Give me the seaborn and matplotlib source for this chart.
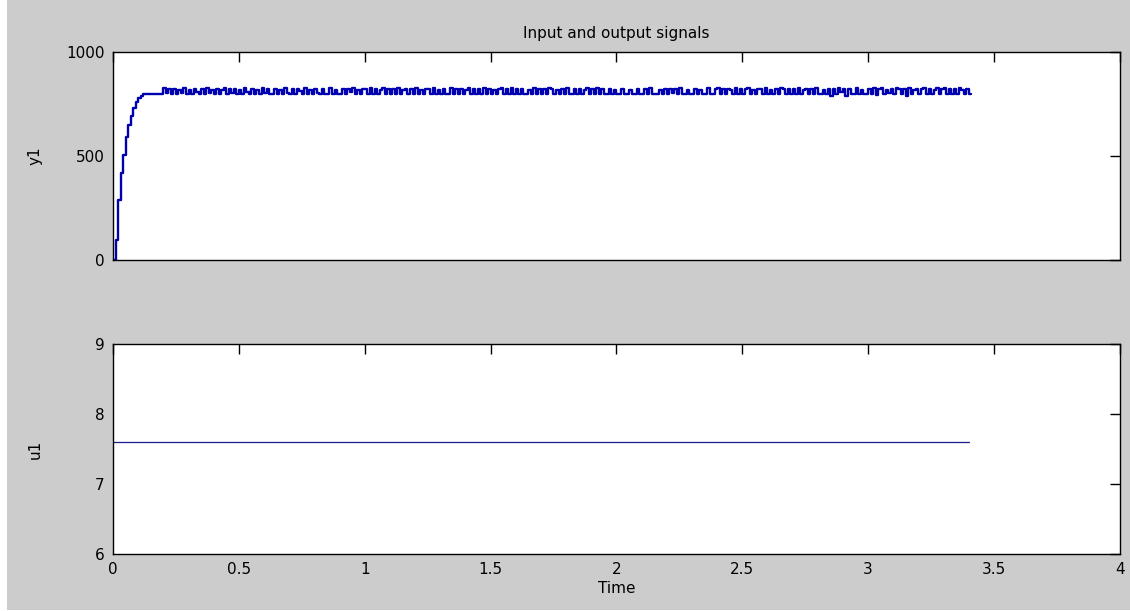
import numpy as np
import pandas as pd
import matplotlib
matplotlib.use("Agg")
import matplotlib.pyplot as plt
from matplotlib.patches import Rectangle
import seaborn as sns

# output y1, sampled at 0.01 s: fast rise, then ripple around 800-825
ts = 0.01
y1 = [0, 96, 288, 418, 505, 590, 650, 690, 730, 760,
      780, 790, 798, 800, 800, 800, 800, 800, 800, 800,
      825, 805, 820, 800, 822, 800, 818, 805, 825, 800,
      815, 800, 822, 808, 800, 820, 800, 825, 805, 818,
      800, 822, 800, 815, 825, 800, 820, 802, 822, 800,
      818, 800, 825, 808, 800, 822, 800, 815, 800, 825,
      805, 820, 800, 800, 822, 800, 818, 800, 825, 805,
      800, 820, 800, 822, 810, 800, 825, 800, 818, 800,
      822, 805, 800, 820, 800, 800, 825, 800, 815, 800,
      800, 822, 800, 820, 806, 825, 800, 818, 800, 822,
      820, 800, 825, 800, 822, 800, 818, 825, 800, 822,
      800, 820, 800, 825, 800, 818, 822, 800, 820, 800,
      825, 800, 815, 800, 822, 820, 800, 825, 800, 818,
      800, 822, 800, 800, 825, 800, 820, 800, 822, 800,
      818, 825, 800, 820, 800, 822, 800, 825, 800, 820,
      800, 818, 800, 822, 825, 800, 820, 800, 825, 800,
      822, 800, 820, 800, 800, 818, 800, 825, 800, 820,
      800, 822, 800, 825, 820, 800, 818, 800, 822, 800,
      825, 800, 800, 820, 800, 822, 800, 818, 825, 800,
      820, 800, 825, 800, 822, 800, 800, 820, 800, 818,
      800, 800, 820, 800, 800, 818, 800, 800, 822, 800,
      800, 820, 800, 825, 800, 800, 800, 818, 800, 820,
      800, 822, 805, 820, 800, 825, 800, 800, 818, 800,
      800, 820, 800, 815, 800, 800, 825, 800, 800, 820,
      825, 800, 822, 800, 820, 818, 800, 825, 800, 822,
      800, 820, 825, 800, 818, 800, 822, 820, 800, 825,
      800, 818, 800, 822, 800, 825, 820, 800, 822, 800,
      820, 800, 825, 800, 818, 822, 800, 820, 800, 825,
      800, 800, 818, 800, 822, 790, 820, 800, 825, 808,
      822, 790, 820, 800, 800, 825, 800, 818, 800, 800,
      822, 800, 825, 792, 820, 825, 800, 818, 805, 822,
      800, 825, 820, 800, 822, 790, 825, 800, 818, 822,
      800, 820, 825, 800, 822, 800, 818, 825, 800, 820,
      825, 800, 822, 800, 820, 800, 825, 818, 800, 822,
      800, 800]

# input u1: constant
u1_time = [0.0, 3.4]
u1_vals = [7.6, 7.6]

df_y = pd.DataFrame({"Time": np.arange(len(y1)) * ts, "y1": y1})
df_u = pd.DataFrame({"Time": u1_time, "u1": u1_vals})

sns.set_style("white")
plt.rcParams["font.family"] = ["DejaVu Sans"]
plt.rcParams["font.size"] = 11
plt.rcParams["text.color"] = "black"
plt.rcParams["axes.labelcolor"] = "black"

fig = plt.figure(figsize=(11.3, 6.11), dpi=100, facecolor="white")
fig.patches.append(Rectangle((7 / 1130, 1 / 611), 1, 1, transform=fig.transFigure,
                             facecolor="#cccccc", edgecolor="none", zorder=-10))

ax1 = fig.add_axes([0.1, 0.5745, 0.891, 0.3405])
ax2 = fig.add_axes([0.1, 0.0933, 0.891, 0.3437])

sns.lineplot(data=df_y, x="Time", y="y1", ax=ax1, estimator=None,
             drawstyle="steps-post", color="#0000b0", lw=1.7)
sns.lineplot(data=df_u, x="Time", y="u1", ax=ax2, estimator=None,
             color="#1a1a90", lw=0.9)

for ax in (ax1, ax2):
    ax.set_facecolor("white")
    ax.set_xlim(0, 4)
    ax.set_xticks(np.arange(0, 4.01, 0.5))
    ax.tick_params(direction="in", length=7, width=1, top=True, right=True,
                   labelsize=11, colors="black", pad=6)
    for s in ax.spines.values():
        s.set_color("black")
        s.set_linewidth(1)

ax1.set_ylim(0, 1000)
ax1.set_yticks([0, 500, 1000])
ax1.set_xticklabels([])
ax1.set_xlabel("")
ax1.set_ylabel("y1")
ax1.yaxis.set_label_coords(-0.07, 0.5)
ax1.set_title("Input and output signals", fontsize=11, pad=10, color="black")

ax2.set_ylim(6, 9)
ax2.set_yticks([6, 7, 8, 9])
ax2.set_xticklabels(["0", "0.5", "1", "1.5", "2", "2.5", "3", "3.5", "4"])
ax2.set_xlabel("Time", labelpad=3)
ax2.set_ylabel("u1")
ax2.yaxis.set_label_coords(-0.07, 0.5)

fig.savefig("out.png", dpi=100, facecolor=fig.get_facecolor())
